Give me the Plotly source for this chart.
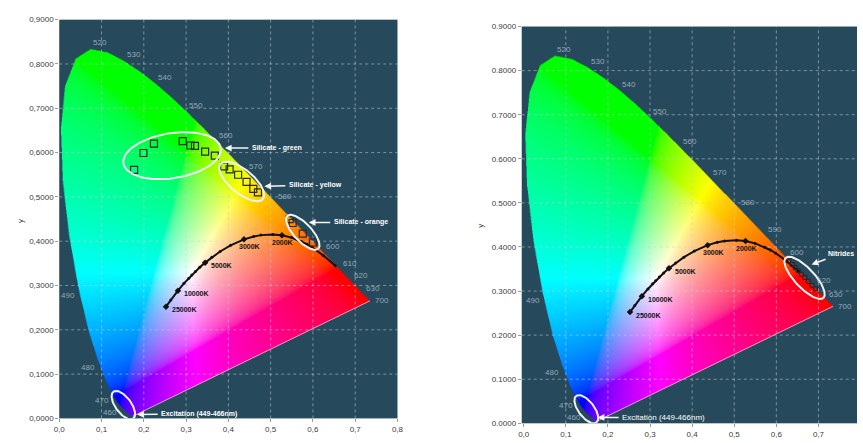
import base64
import struct
import zlib

import numpy as np
import plotly.graph_objects as go

# ---------------------------------------------------------------------------
# CIE 1931 2-degree spectral locus (x, y chromaticity of monochromatic light)
# ---------------------------------------------------------------------------
wavelength_nm = [380, 385, 390, 395, 400, 405, 410, 415, 420, 425, 430, 435,
                 440, 445, 450, 455, 460, 465, 470, 475, 480, 485, 490, 495,
                 500, 505, 510, 515, 520, 525, 530, 535, 540, 545, 550, 555,
                 560, 565, 570, 575, 580, 585, 590, 595, 600, 605, 610, 615,
                 620, 625, 630, 635, 640, 645, 650, 660, 680, 700]
locus_x = [0.1741, 0.1740, 0.1738, 0.1736, 0.1733, 0.1730, 0.1726, 0.1721,
           0.1714, 0.1703, 0.1689, 0.1669, 0.1644, 0.1611, 0.1566, 0.1510,
           0.1440, 0.1355, 0.1241, 0.1096, 0.0913, 0.0687, 0.0454, 0.0235,
           0.0082, 0.0039, 0.0139, 0.0389, 0.0743, 0.1142, 0.1547, 0.1929,
           0.2296, 0.2658, 0.3016, 0.3373, 0.3731, 0.4087, 0.4441, 0.4788,
           0.5125, 0.5448, 0.5752, 0.6029, 0.6270, 0.6482, 0.6658, 0.6801,
           0.6915, 0.7006, 0.7079, 0.7140, 0.7190, 0.7230, 0.7260, 0.7300,
           0.7334, 0.7347]
locus_y = [0.0050, 0.0050, 0.0049, 0.0049, 0.0048, 0.0048, 0.0048, 0.0048,
           0.0051, 0.0058, 0.0069, 0.0086, 0.0109, 0.0138, 0.0177, 0.0227,
           0.0297, 0.0399, 0.0578, 0.0868, 0.1327, 0.2007, 0.2950, 0.4127,
           0.5384, 0.6548, 0.7502, 0.8120, 0.8338, 0.8262, 0.8059, 0.7816,
           0.7543, 0.7243, 0.6923, 0.6589, 0.6245, 0.5896, 0.5547, 0.5202,
           0.4866, 0.4544, 0.4242, 0.3965, 0.3725, 0.3514, 0.3340, 0.3197,
           0.3083, 0.2993, 0.2920, 0.2859, 0.2809, 0.2770, 0.2740, 0.2700,
           0.2666, 0.2653]

# Wavelengths written along the locus in each diagram
left_label_nm = [460, 470, 480, 490, 520, 530, 540, 550, 560, 570, 580,
                 600, 610, 620, 630, 700]
right_label_nm = [460, 470, 480, 490, 520, 530, 540, 550, 560, 570, 580,
                  590, 600, 620, 630, 700]

# ---------------------------------------------------------------------------
# Planckian (black-body) locus
# ---------------------------------------------------------------------------
planck_kelvin = [25000, 15000, 10000, 8000, 7000, 6500, 6000, 5500, 5000,
                 4500, 4000, 3500, 3000, 2700, 2500, 2200, 2000, 1800, 1600,
                 1500, 1400, 1200, 1000]
planck_x = [0.2525, 0.2637, 0.2807, 0.2950, 0.3064, 0.3135, 0.3221, 0.3324,
            0.3451, 0.3608, 0.3805, 0.4053, 0.4369, 0.4599, 0.4770, 0.5054,
            0.5267, 0.5497, 0.5729, 0.5857, 0.5985, 0.6248, 0.6528]
planck_y = [0.2522, 0.2673, 0.2883, 0.3048, 0.3166, 0.3236, 0.3318, 0.3410,
            0.3516, 0.3636, 0.3768, 0.3907, 0.4041, 0.4106, 0.4137, 0.4152,
            0.4133, 0.4081, 0.3993, 0.3931, 0.3858, 0.3675, 0.3444]
cct_marked_kelvin = [25000, 10000, 5000, 3000, 2000]

# ---------------------------------------------------------------------------
# Phosphor chromaticities
# ---------------------------------------------------------------------------
silicate_green_x = [0.177, 0.199, 0.224, 0.292, 0.310, 0.321, 0.345, 0.368]
silicate_green_y = [0.561, 0.599, 0.620, 0.626, 0.616, 0.615, 0.602, 0.593]
silicate_yellow_x = [0.390, 0.403, 0.423, 0.443, 0.459, 0.470]
silicate_yellow_y = [0.569, 0.562, 0.550, 0.534, 0.518, 0.510]
silicate_orange_x = [0.545, 0.552, 0.576, 0.600]
silicate_orange_y = [0.450, 0.441, 0.417, 0.397]
nitride_x = [0.630, 0.638, 0.645, 0.652, 0.660, 0.668, 0.676, 0.685, 0.693]
nitride_y = [0.368, 0.360, 0.353, 0.346, 0.338, 0.331, 0.322, 0.313, 0.305]

# Axis ticks
x_ticks = [0.0, 0.1, 0.2, 0.3, 0.4, 0.5, 0.6, 0.7, 0.8]
y_ticks = [0.0, 0.1, 0.2, 0.3, 0.4, 0.5, 0.6, 0.7, 0.8, 0.9]

# ---------------------------------------------------------------------------
# Styling
# ---------------------------------------------------------------------------
W, H = 863, 443
PLOT_BG = "#26495b"
GRID = "rgba(195,208,218,0.55)"
NM_COLOR = "rgba(185,200,212,0.78)"
TICK_FONT = dict(family="Liberation Sans, Arial, sans-serif", size=8, color="#3c3c3c")
LABEL_FAMILY = "Liberation Sans, Arial, sans-serif"

# nudges (px) for the crowded red-end wavelength labels
NM_NUDGE = {630: dict(xshift=5, yshift=-6), 700: dict(xshift=3, yshift=0, yanchor="middle")}


def in_polygon(px, py, vx, vy):
    """Even-odd ray casting test, vectorised over all sample points."""
    inside = np.zeros(px.shape, dtype=bool)
    n = len(vx)
    j = n - 1
    for i in range(n):
        xi, yi, xj, yj = vx[i], vy[i], vx[j], vy[j]
        crosses = (yi > py) != (yj > py)
        denom = (yj - yi) if yj != yi else 1e-12
        x_at = (xj - xi) * (py - yi) / denom + xi
        inside ^= crosses & (px < x_at)
        j = i
    return inside


def gamut_rgba(x_span, y_span, step, ss=2):
    """Colour every xy inside the spectral locus with its normalised sRGB value."""
    w = int(round(x_span / step))
    h = int(round(y_span / step))
    xs = (np.arange(w) + 0.5) * step
    ys = y_span - (np.arange(h) + 0.5) * step
    gx, gy = np.meshgrid(xs, ys)

    vx = np.array(locus_x)
    vy = np.array(locus_y)
    offs = ((np.arange(ss) + 0.5) / ss - 0.5) * step
    cover = np.zeros(gx.shape)
    for ox in offs:
        for oy in offs:
            cover += in_polygon(gx + ox, gy + oy, vx, vy)
    cover /= ss * ss

    yy = np.maximum(gy, 1e-3)
    X = gx / yy
    Y = np.ones_like(gx)
    Z = (1.0 - gx - gy) / yy
    r = 3.2406 * X - 1.5372 * Y - 0.4986 * Z
    g = -0.9689 * X + 1.8758 * Y + 0.0415 * Z
    b = 0.0557 * X - 0.2040 * Y + 1.0570 * Z
    rgb = np.clip(np.stack([r, g, b], axis=-1), 0, None)
    rgb /= np.maximum(rgb.max(axis=-1, keepdims=True), 1e-9)
    rgb = np.where(rgb <= 0.0031308, 12.92 * rgb, 1.055 * np.power(rgb, 1 / 2.4) - 0.055)

    out = np.zeros((h, w, 4), dtype=np.uint8)
    out[..., :3] = np.clip(rgb * 255 + 0.5, 0, 255).astype(np.uint8)
    out[..., 3] = np.clip(cover * 255 + 0.5, 0, 255).astype(np.uint8)
    return out


def png_uri(rgba):
    h, w, _ = rgba.shape
    raw = b"".join(b"\x00" + rgba[i].tobytes() for i in range(h))

    def chunk(tag, data):
        return (struct.pack(">I", len(data)) + tag + data
                + struct.pack(">I", zlib.crc32(tag + data) & 0xFFFFFFFF))

    png = (b"\x89PNG\r\n\x1a\n"
           + chunk(b"IHDR", struct.pack(">IIBBBBB", w, h, 8, 6, 0, 0, 0))
           + chunk(b"IDAT", zlib.compress(raw, 9))
           + chunk(b"IEND", b""))
    return "data:image/png;base64," + base64.b64encode(png).decode()


def ellipse(cx, cy, a_px, b_px, angle_deg, ppx, ppy, n=120):
    t = np.linspace(0, 2 * np.pi, n)
    th = np.radians(angle_deg)
    u = a_px * np.cos(t)
    v = b_px * np.sin(t)
    ex = cx + (u * np.cos(th) - v * np.sin(th)) / ppx
    ey = cy + (u * np.sin(th) + v * np.cos(th)) / ppy
    return ex, ey


GAMUT_X, GAMUT_Y = 0.8, 0.9
gamut_src = png_uri(gamut_rgba(GAMUT_X, GAMUT_Y, 0.002))

# Two diagrams: silicate phosphors (left) and nitride phosphors (right)
panels = [
    dict(xa="x", ya="y", xdom=[54 / W, 397 / W], ydom=[20 / H, 427 / H],
         xrange=[0.0, 0.8], ppx=343 / 0.8, ppy=407 / 0.9, dec=",",
         labels=left_label_nm),
    dict(xa="x2", ya="y2", xdom=[523 / W, 1.0], ydom=[15 / H, 420 / H],
         xrange=[-2 / 427, 338 / 427], ppx=427.0, ppy=450.0, dec=".",
         labels=right_label_nm),
]

fig = go.Figure()
annotations = []
images = []

for p in panels:
    xa, ya = p["xa"], p["ya"]
    images.append(dict(source=gamut_src, xref=xa, yref=ya, x=0, y=GAMUT_Y,
                       sizex=GAMUT_X, sizey=GAMUT_Y, sizing="stretch",
                       xanchor="left", yanchor="top", layer="below"))

    # dotted grid drawn over the colour fill
    gx, gy = [], []
    for v in x_ticks[1:-1]:
        gx += [v, v, None]
        gy += [y_ticks[0], y_ticks[-1], None]
    for v in y_ticks[1:-1]:
        gx += [p["xrange"][0], p["xrange"][1], None]
        gy += [v, v, None]
    fig.add_trace(go.Scatter(x=gx, y=gy, mode="lines", xaxis=xa, yaxis=ya,
                             line=dict(color=GRID, width=1, dash="dot"),
                             hoverinfo="skip"))

    # line of purples
    fig.add_trace(go.Scatter(x=[locus_x[0], locus_x[-1]], y=[locus_y[0], locus_y[-1]],
                             mode="lines", xaxis=xa, yaxis=ya,
                             line=dict(color="rgba(255,190,215,0.8)", width=1),
                             hoverinfo="skip"))

    # wavelength labels along the locus
    for nm in p["labels"]:
        k = wavelength_nm.index(nm)
        blue_side = nm <= 495
        ann = dict(
            x=locus_x[k], y=locus_y[k], xref=xa, yref=ya, text=str(nm),
            showarrow=False, xanchor="right" if blue_side else "left",
            yanchor="top" if blue_side else "bottom",
            xshift=-1 if blue_side else 0, yshift=-1 if blue_side else 0,
            font=dict(family=LABEL_FAMILY, size=8, color=NM_COLOR))
        ann.update(NM_NUDGE.get(nm, {}))
        annotations.append(ann)

    # black-body line
    fig.add_trace(go.Scatter(x=planck_x, y=planck_y, mode="lines+markers",
                             xaxis=xa, yaxis=ya,
                             line=dict(color="#111111", width=2),
                             marker=dict(size=3, color="#111111"),
                             hoverinfo="skip"))
    mk = [planck_kelvin.index(t) for t in cct_marked_kelvin]
    fig.add_trace(go.Scatter(x=[planck_x[i] for i in mk], y=[planck_y[i] for i in mk],
                             mode="markers", xaxis=xa, yaxis=ya,
                             marker=dict(size=5, color="#111111", symbol="diamond"),
                             hoverinfo="skip"))
    for t, i in zip(cct_marked_kelvin, mk):
        below = t <= 3000
        annotations.append(dict(
            x=planck_x[i], y=planck_y[i], xref=xa, yref=ya,
            text=f"<b>{t}K</b>", showarrow=False,
            xanchor="center" if below else "left",
            yanchor="top" if below else "middle",
            xshift={3000: 6, 2000: 1}.get(t, 4),
            yshift=-2 if below else -3,
            font=dict(family=LABEL_FAMILY, size=7, color="#111111")))

left, right = panels

# silicate phosphors
for sx, sy in [(silicate_green_x, silicate_green_y),
               (silicate_yellow_x, silicate_yellow_y),
               (silicate_orange_x, silicate_orange_y)]:
    fig.add_trace(go.Scatter(x=sx, y=sy, mode="markers", xaxis="x", yaxis="y",
                             marker=dict(symbol="square-open", size=7, color="#2a2a2a",
                                         line=dict(width=1.2)),
                             hoverinfo="skip"))

# nitride phosphors
fig.add_trace(go.Scatter(x=nitride_x, y=nitride_y, mode="markers", xaxis="x2", yaxis="y2",
                         marker=dict(symbol="square-open", size=4, color="#1c2a33",
                                     line=dict(width=1)),
                         hoverinfo="skip"))

# group outlines: (panel, centre x, centre y, semi-axes px, tilt)
outlines = [
    (left, 0.267, 0.593, 50, 23, 9),
    (left, 0.4315, 0.535, 28, 12, -40),
    (left, 0.576, 0.420, 23, 9, -47),
    (left, 0.1516, 0.030, 17, 8, -54),
    (right, 0.1487, 0.032, 17, 8, -53),
    (right, 0.667, 0.330, 28, 10, -47),
]
for p, cx, cy, a, b, ang in outlines:
    ex, ey = ellipse(cx, cy, a, b, ang, p["ppx"], p["ppy"])
    fig.add_trace(go.Scatter(x=ex, y=ey, mode="lines", xaxis=p["xa"], yaxis=p["ya"],
                             line=dict(color="#eef2f2", width=2), hoverinfo="skip"))

# callouts
callouts = [
    ("x", "y", 0.3918, 0.6103, 52, 0, "<b>Silicate - green</b>", 7),
    ("x", "y", 0.4851, 0.5241, 51, -1, "<b>Silicate - yellow</b>", 7),
    ("x", "y", 0.5901, 0.4423, 52, 0, "<b>Silicate - orange</b>", 7),
    ("x", "y", 0.1843, 0.0088, 62, -1, "<b>Excitation (449-466nm)</b>", 7),
    ("x2", "y2", 0.6838, 0.360, 29, -11, "<b>Nitrides</b>", 7),
    ("x2", "y2", 0.1756, 0.0133, 66, 0, "Excitation (449-466nm)", 8),
]
for xa, ya, hx, hy, axp, ayp, txt, fs in callouts:
    annotations.append(dict(
        x=hx, y=hy, xref=xa, yref=ya, ax=axp, ay=ayp, text=txt,
        showarrow=True, arrowhead=2, arrowsize=0.9, arrowwidth=1.5,
        arrowcolor="#f4f6f6", standoff=0, startstandoff=2,
        font=dict(family=LABEL_FAMILY, size=fs, color="#ffffff")))

# axis titles
for px, py in [(8, 221), (481, 226)]:
    annotations.append(dict(x=px / W, y=1 - py / H, xref="paper", yref="paper",
                            text="y", showarrow=False, textangle=-90,
                            font=dict(family=LABEL_FAMILY, size=8, color="#3c3c3c")))


def axis_common():
    return dict(showgrid=False, zeroline=False, showline=False, ticks="outside",
                ticklen=3, tickcolor="#9a9a9a", tickfont=TICK_FONT, fixedrange=True)


layout = dict(width=W, height=H, margin=dict(l=0, r=0, t=0, b=0),
              paper_bgcolor="white", plot_bgcolor=PLOT_BG, showlegend=False,
              annotations=annotations, images=images)
for idx, p in enumerate(panels):
    sfx = "" if idx == 0 else "2"
    xt = [t for t in x_ticks if p["xrange"][0] <= t <= p["xrange"][1] + 1e-9]
    layout["xaxis" + sfx] = dict(
        axis_common(), domain=p["xdom"], range=p["xrange"], anchor="y" + sfx,
        tickvals=xt, ticktext=[f"{t:.1f}".replace(".", ",") for t in xt])
    layout["yaxis" + sfx] = dict(
        axis_common(), domain=p["ydom"], range=[y_ticks[0], y_ticks[-1]], anchor="x" + sfx,
        tickvals=y_ticks, ticktext=[f"{t:.4f}".replace(".", p["dec"]) for t in y_ticks])

fig.update_layout(**layout)
fig.write_html("out.html")
